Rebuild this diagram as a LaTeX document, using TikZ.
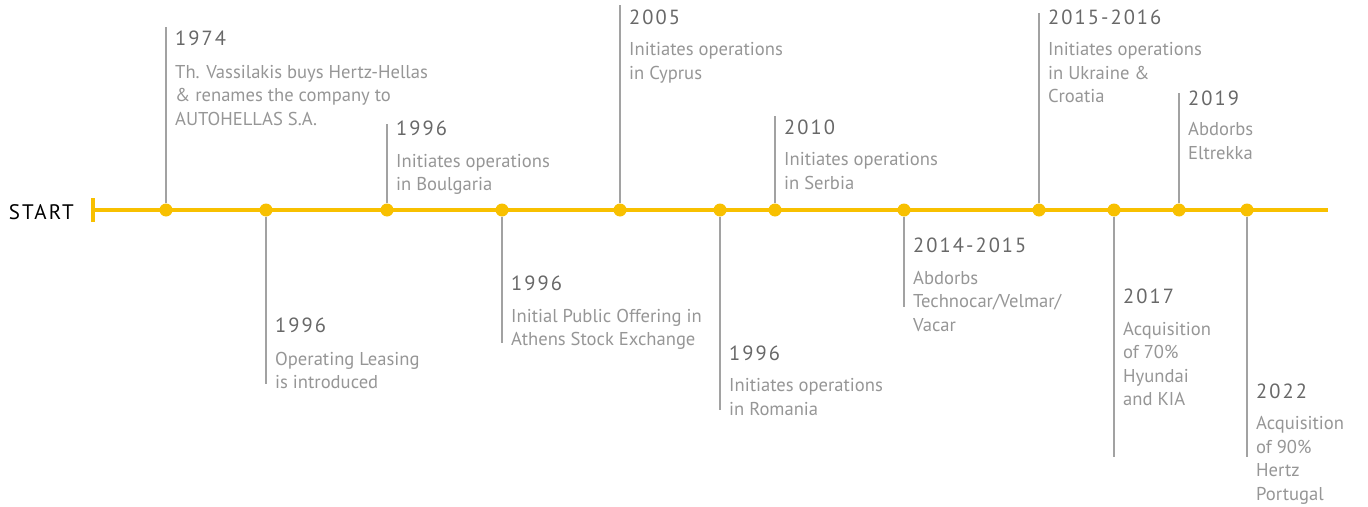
\documentclass[tikz,border=0pt]{standalone}
\usepackage{fontspec}
\setmainfont{PT Sans}
\newfontfamily\yearfont[LetterSpace=10]{PT Sans}
\usetikzlibrary{positioning}
\definecolor{gold}{RGB}{248,192,0}
\definecolor{stemgray}{RGB}{162,162,162}
\definecolor{yeargray}{RGB}{104,104,104}
\definecolor{descgray}{RGB}{150,150,150}

\begin{document}
\begin{tikzpicture}[x=1pt, y=-1pt,
        dot/.style={circle, fill=gold, inner sep=0pt, minimum size=13pt},
        stem/.style={draw=stemgray, line width=2.6pt},
        year/.style={anchor=base west, inner sep=0pt, text=yeargray, font=\yearfont\fontsize{20.5}{24}\selectfont},
        desc/.style={inner sep=0pt, text=descgray, align=left, font=\fontsize{18.6}{23.5}\selectfont, execute at begin node=\strut}]
        \useasboundingbox (0,0) rectangle (1368,506);

        % the time line
        \coordinate (lineS) at (93,210);
        \coordinate (lineE) at (1328,210);
        \coordinate (tickT) at (93,198);
        \coordinate (tickB) at (93,222);
        \draw[gold, line width=4pt] (lineS) -- (lineE);
        \draw[gold, line width=4pt] (tickT) -- (tickB);
        \node[anchor=base east, inner sep=0pt, font=\yearfont\fontsize{21}{24}\selectfont] (start) at (74,219) {START};

        % dots on the line
        \node[dot] (d1) at (166,210) {};
        \node[dot] (d2) at (266,210) {};
        \node[dot] (d3) at (387,210) {};
        \node[dot] (d4) at (502,210) {};
        \node[dot] (d5) at (620,210) {};
        \node[dot] (d6) at (720,210) {};
        \node[dot] (d7) at (775,210) {};
        \node[dot] (d8) at (904,210) {};
        \node[dot] (d9) at (1039,210) {};
        \node[dot] (d10) at (1114,210) {};
        \node[dot] (d11) at (1179,210) {};
        \node[dot] (d12) at (1247,210) {};

        % stem ends
        \coordinate (e1) at (166,27);
        \coordinate (e2) at (266,384);
        \coordinate (e3) at (387,124);
        \coordinate (e4) at (502,343);
        \coordinate (e5) at (620,5);
        \coordinate (e6) at (720,410);
        \coordinate (e7) at (775,116);
        \coordinate (e8) at (904,307);
        \coordinate (e9) at (1039,13);
        \coordinate (e10) at (1114,457);
        \coordinate (e11) at (1179,93);
        \coordinate (e12) at (1247,457);
        \foreach \i in {1,...,12}
            \draw[stem] (d\i) -- (e\i);

        % years
        \node[year] (y1) at (175,45) {1974};
        \node[year] (y2) at (275,332) {1996};
        \node[year] (y3) at (396,135) {1996};
        \node[year] (y4) at (511,290) {1996};
        \node[year] (y5) at (629,24) {2005};
        \node[year] (y6) at (729,360) {1996};
        \node[year] (y7) at (784,134) {2010};
        \node[year] (y8) at (913,252) {2014-2015};
        \node[year] (y9) at (1048,24) {2015-2016};
        \node[year] (y10) at (1123,303) {2017};
        \node[year] (y11) at (1188,105) {2019};
        \node[year] (y12) at (1256,398) {2022};

        % texts
        \node[desc, below right=20pt and 0pt of y1.base west] (t1) {Th. Vassilakis buys Hertz-Hellas\\\& renames the company to\\AUTOHELLAS S.A.};
        \node[desc, below right=20pt and 0pt of y2.base west] (t2) {Operating Leasing\\is introduced};
        \node[desc, below right=19pt and 0pt of y3.base west] (t3) {Initiates operations\\in Boulgaria};
        \node[desc, below right=19pt and 0pt of y4.base west] (t4) {Initial Public Offering in\\Athens Stock Exchange};
        \node[desc, below right=18.5pt and 0pt of y5.base west] (t5) {Initiates operations\\in Cyprus};
        \node[desc, below right=18.5pt and 0pt of y6.base west] (t6) {Initiates operations\\in Romania};
        \node[desc, below right=18.5pt and 0pt of y7.base west] (t7) {Initiates operations\\in Serbia};
        \node[desc, below right=19pt and 0pt of y8.base west] (t8) {Abdorbs\\Technocar/Velmar/\\Vacar};
        \node[desc, below right=18.5pt and 0pt of y9.base west] (t9) {Initiates operations\\in Ukraine \&\\Croatia};
        \node[desc, below right=19pt and 0pt of y10.base west] (t10) {Acquisition\\of 70\%\\Hyundai\\and KIA};
        \node[desc, below right=17.5pt and 0pt of y11.base west] (t11) {Abdorbs\\Eltrekka};
        \node[desc, below right=18.5pt and 0pt of y12.base west] (t12) {Acquisition\\of 90\%\\Hertz\\Portugal};
\end{tikzpicture}
\end{document}
